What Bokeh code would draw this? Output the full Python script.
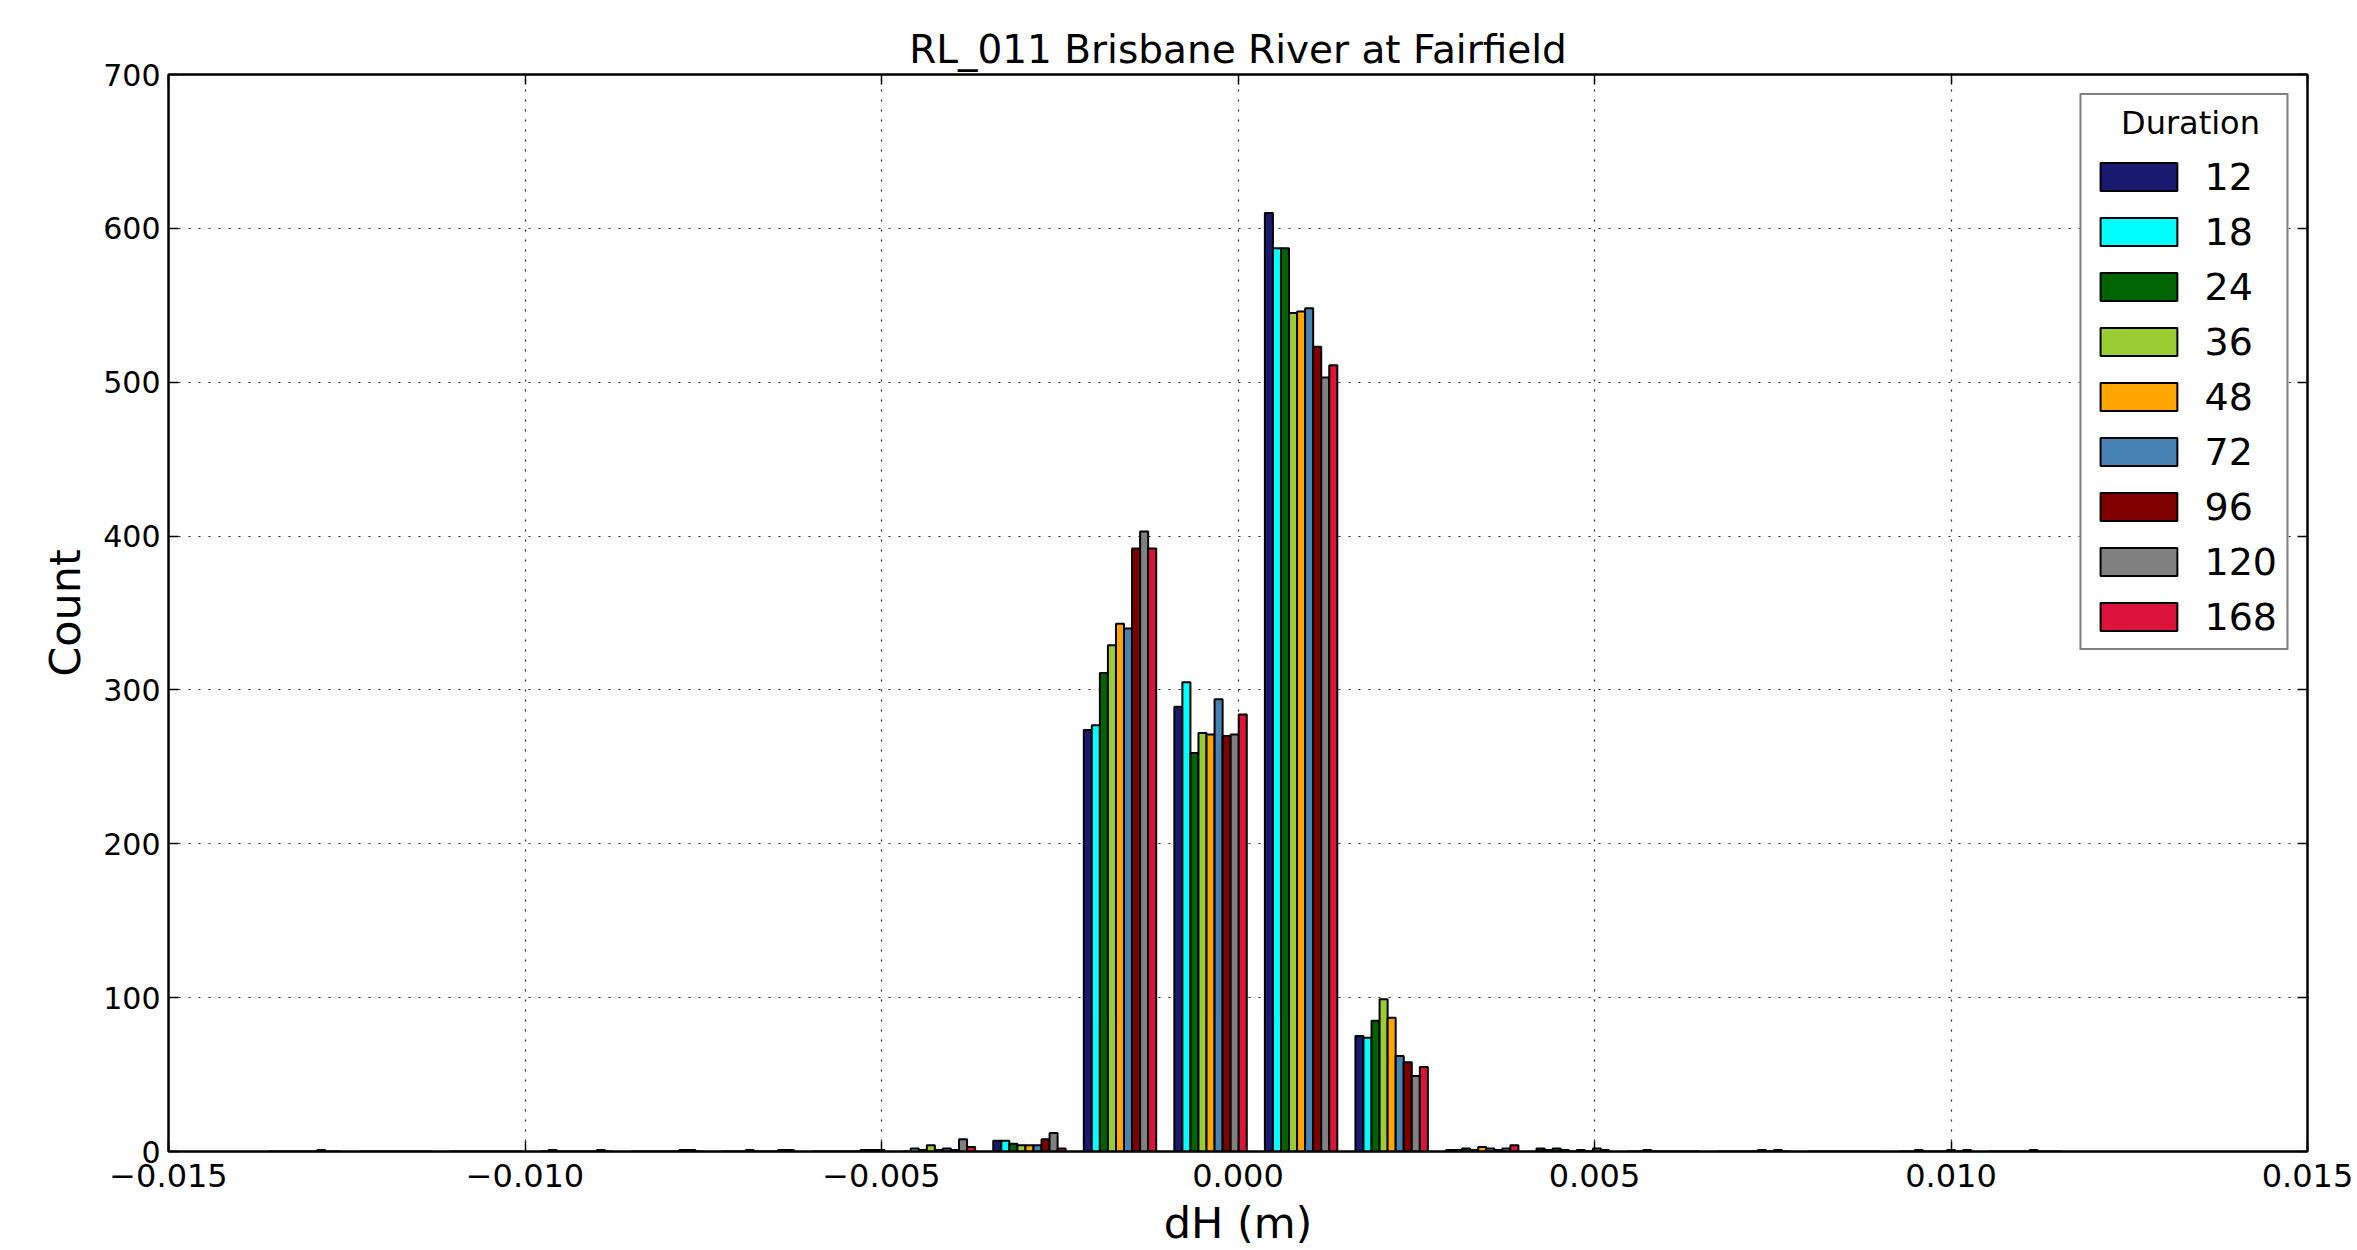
import numpy as np
from bokeh.plotting import figure
from bokeh.models import (ColumnDataSource, FixedTicker, CustomJSTickFormatter,
                          LinearAxis, Legend, LegendItem, Range1d)
from bokeh.embed import file_html
from bokeh.resources import INLINE

# ---------------- data ----------------
title_text = "RL_011 Brisbane River at Fairfield"
x_label = "dH (m)"
y_label = "Count"
legend_title = "Duration"

durations = ["12", "18", "24", "36", "48", "72", "96", "120", "168"]
colors = ["#191970", "#00FFFF", "#006400", "#9ACD32", "#FFA500",
          "#4682B4", "#800000", "#808080", "#DC143C"]

# histogram bin edges (20 bins)
bin_edges = [-0.01372, -0.01245, -0.01118, -0.00991, -0.00864, -0.00737,
             -0.00610, -0.00483, -0.00356, -0.00229, -0.00102, 0.00025,
             0.00152, 0.00279, 0.00406, 0.00533, 0.00660, 0.00787,
             0.00914, 0.01041, 0.01168]

counts_12 = [0, 0, 0, 0, 0, 0, 0, 0, 7, 274, 289, 610, 75, 1, 2, 0, 0, 0, 0, 0]
counts_18 = [0, 0, 0, 1, 0, 0, 0, 2, 7, 277, 305, 587, 74, 1, 1, 0, 0, 0, 0, 0]
counts_24 = [0, 0, 0, 0, 0, 0, 0, 1, 5, 311, 259, 587, 85, 2, 2, 1, 0, 0, 1, 0]
counts_36 = [0, 0, 0, 0, 0, 1, 0, 4, 4, 329, 272, 545, 99, 1, 1, 0, 0, 0, 0, 0]
counts_48 = [0, 0, 0, 0, 0, 0, 0, 1, 4, 343, 271, 546, 87, 3, 0, 0, 0, 0, 0, 0]
counts_72 = [0, 0, 0, 0, 0, 0, 0, 2, 4, 340, 294, 548, 62, 2, 1, 0, 1, 0, 0, 1]
counts_96 = [1, 0, 0, 0, 1, 0, 1, 1, 8, 392, 270, 523, 58, 1, 0, 0, 0, 0, 1, 0]
counts_120 = [0, 0, 0, 1, 1, 1, 1, 8, 12, 403, 271, 503, 49, 2, 2, 0, 1, 0, 0, 0]
counts_168 = [0, 0, 0, 0, 0, 1, 1, 3, 2, 392, 284, 511, 55, 4, 1, 0, 0, 0, 1, 0]

all_counts = [counts_12, counts_18, counts_24, counts_36, counts_48,
              counts_72, counts_96, counts_120, counts_168]

x_ticks = [-0.015, -0.010, -0.005, 0.000, 0.005, 0.010, 0.015]
y_ticks = [0, 100, 200, 300, 400, 500, 600, 700]

# ---------------- figure ----------------
FONT = "DejaVu Sans"
p = figure(width=2357, height=1250, output_backend="svg", toolbar_location=None,
           x_range=Range1d(-0.015, 0.015), y_range=Range1d(0, 700),
           min_border_left=168, min_border_right=50, min_border_top=74,
           min_border_bottom=99)

p.title.text = title_text
p.title.align = "center"
p.title.text_font = FONT
p.title.text_font_size = "39px"
p.title.text_font_style = "normal"
p.title.text_color = "black"
p.title.standoff = 5

p.outline_line_color = "black"
p.outline_line_width = 2
p.background_fill_color = "white"
p.border_fill_color = "white"

edges = np.array(bin_edges)
lefts = edges[:-1]
bw = edges[1:] - edges[:-1]
n = len(durations)
dw = 0.8 * bw
bar_w = dw / n

renderers = []
for i, (lab, col, cnt) in enumerate(zip(durations, colors, all_counts)):
    xc = lefts + 0.5 * (bw - dw) + (i + 0.5) * bar_w
    src = ColumnDataSource(dict(x=xc, top=np.array(cnt), w=bar_w))
    r = p.vbar(x="x", top="top", bottom=0, width="w", source=src,
               fill_color=col, line_color="black", line_width=2)
    renderers.append((lab, r))

# axes
fmt = CustomJSTickFormatter(code="""
    return (tick < 0 ? '\\u2212' : '') + Math.abs(tick).toFixed(3);
""")
xa = p.xaxis[0]
xa.ticker = FixedTicker(ticks=x_ticks)
xa.formatter = fmt
ya = p.yaxis[0]
ya.ticker = FixedTicker(ticks=y_ticks)

for ax in (xa, ya):
    ax.axis_line_color = "black"
    ax.axis_line_width = 2
    ax.major_tick_in = 10
    ax.major_tick_out = 0
    ax.major_tick_line_width = 1.5
    ax.minor_tick_line_color = None
    ax.major_label_text_font = FONT
    ax.major_label_text_color = "black"
    ax.axis_label_text_font = FONT
    ax.axis_label_text_font_style = "normal"
    ax.axis_label_text_color = "black"
    ax.axis_label_text_font_size = "43px"

xa.major_label_text_font_size = "32px"
ya.major_label_text_font_size = "30px"
xa.axis_label = x_label
ya.axis_label = y_label
xa.major_label_standoff = 12
xa.axis_label_standoff = 8
ya.major_label_standoff = 8
ya.axis_label_standoff = 10

empty = CustomJSTickFormatter(code="return '';")
top_ax = LinearAxis(ticker=FixedTicker(ticks=x_ticks), formatter=empty)
right_ax = LinearAxis(ticker=FixedTicker(ticks=y_ticks), formatter=empty)
for ax in (top_ax, right_ax):
    ax.axis_line_color = "black"
    ax.axis_line_width = 2
    ax.major_tick_in = 10
    ax.major_tick_out = 0
    ax.major_tick_line_width = 1.5
    ax.minor_tick_line_color = None
    ax.major_label_standoff = 0
p.add_layout(top_ax, "above")
p.add_layout(right_ax, "right")

# grid
for g in (p.xgrid[0], p.ygrid[0]):
    g.grid_line_color = "black"
    g.grid_line_alpha = 0.85
    g.grid_line_width = 1.2
    g.grid_line_dash = "2 8"
p.xgrid[0].ticker = FixedTicker(ticks=x_ticks)
p.ygrid[0].ticker = FixedTicker(ticks=y_ticks)

# legend
legend = Legend(items=[LegendItem(label=lab, renderers=[r]) for lab, r in renderers],
                location="top_right", title="\u00a0\u00a0\u00a0" + legend_title)
legend.title_text_font = FONT
legend.title_text_font_size = "32px"
legend.title_text_font_style = "normal"
legend.title_text_color = "black"
legend.title_standoff = 12
legend.label_text_font = FONT
legend.label_text_font_size = "38px"
legend.label_text_color = "black"
legend.label_standoff = 18
legend.glyph_width = 96
legend.glyph_height = 35
legend.label_height = 45
legend.spacing = 10
legend.padding = 9
legend.margin = 19
legend.border_line_color = "black"
legend.border_line_width = 2
legend.background_fill_alpha = 1
p.add_layout(legend)

open("out.html", "w").write(file_html(p, INLINE))
